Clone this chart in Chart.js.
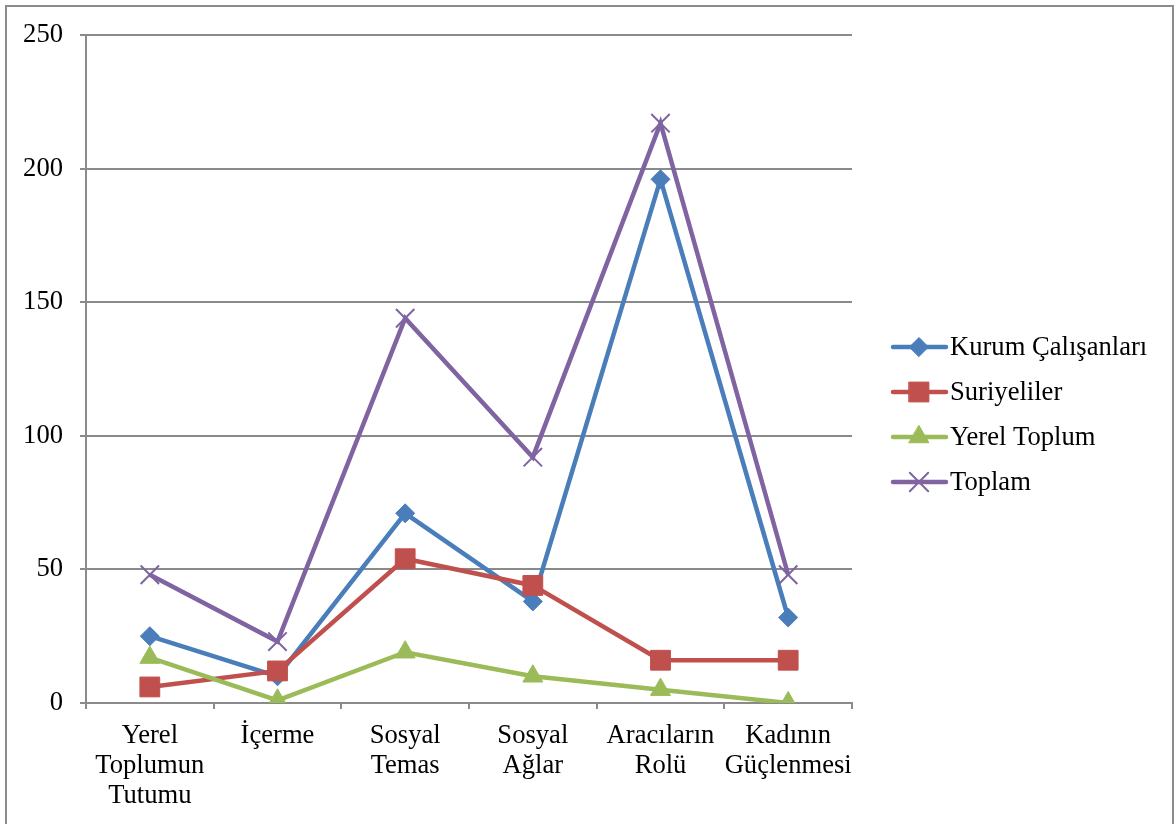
<!DOCTYPE html>
<html>
<head>
<meta charset="utf-8">
<script src="https://cdn.jsdelivr.net/npm/chart.js@4/dist/chart.umd.min.js"></script>
<style>
  html, body { margin: 0; padding: 0; background: #fff; }
  canvas { display: block; }
</style>
</head>
<body>
<canvas id="chart" width="1176" height="824"></canvas>
<script>
// data
const categories = [
    ['Yerel', 'Toplumun', 'Tutumu'],
    'İçerme',
    ['Sosyal', 'Temas'],
    ['Sosyal', 'Ağlar'],
    ['Aracıların', 'Rolü'],
    ['Kadının', 'Güçlenmesi']
];
const kurumCalisanlari = [25, 10, 71, 38, 196, 32];
const suriyeliler = [6, 12, 54, 44, 16, 16];
const yerelToplum = [17, 1, 19, 10, 5, 0];
const toplam = [48, 23, 144, 92, 217, 48];
const yTicks = [0, 50, 100, 150, 200, 250];

const FONT = "'Liberation Serif', 'Times New Roman', serif";
const GRID = '#8a8a8a';

const series = (label, data, color, pointStyle, radius, order, pbw) => ({
    label,
    data,
    borderColor: color,
    backgroundColor: color,
    pointBackgroundColor: color,
    pointBorderColor: color,
    borderWidth: 4.5,
    pointStyle,
    pointRadius: radius,
    pointBorderWidth: pbw,
    order,
    tension: 0
});

// outer frame round the whole chart
const framePlugin = {
    id: 'frame',
    afterDraw(chart) {
        const ctx = chart.ctx;
        ctx.save();
        ctx.strokeStyle = '#8c8c8c';
        ctx.lineWidth = 2;
        ctx.strokeRect(6, 6, 1167, 840);
        ctx.restore();
    }
};

// excel style legend: line with marker, then text
const legendPlugin = {
    id: 'sideLegend',
    afterDraw(chart) {
        const ctx = chart.ctx;
        const rows = [347, 392, 437, 482];
        ctx.save();
        chart.data.datasets.forEach((ds, i) => {
            const y = rows[i];
            ctx.strokeStyle = ds.borderColor;
            ctx.lineWidth = 4.5;
            ctx.lineCap = 'round';
            ctx.beginPath();
            ctx.moveTo(893, y);
            ctx.lineTo(946, y);
            ctx.stroke();
            ctx.fillStyle = ds.pointBackgroundColor;
            ctx.strokeStyle = ds.pointBorderColor;
            ctx.lineWidth = ds.pointBorderWidth;
            Chart.helpers.drawPoint(ctx, {
                pointStyle: ds.pointStyle,
                radius: ds.pointRadius,
                rotation: 0,
                borderWidth: ds.pointBorderWidth
            }, 919, y);
            ctx.fillStyle = '#000';
            ctx.font = '26.6px ' + FONT;
            ctx.textBaseline = 'middle';
            ctx.textAlign = 'left';
            ctx.fillText(ds.label, 950, y + 1);
        });
        ctx.restore();
    }
};

new Chart(document.getElementById('chart'), {
    type: 'line',
    data: {
        labels: categories,
        datasets: [
            series('Kurum Çalışanları', kurumCalisanlari, '#4a7ebb', 'rectRot', 9.5, 4, 1),
            series('Suriyeliler', suriyeliler, '#c0504d', 'rect', 14, 3, 1),
            series('Yerel Toplum', yerelToplum, '#9bbb59', 'triangle', 11.5, 2, 1),
            series('Toplam', toplam, '#8064a2', 'crossRot', 13, 1, 2)
        ]
    },
    options: {
        responsive: false,
        devicePixelRatio: 1,
        animation: false,
        layout: { padding: { top: 35, right: 324, bottom: 0, left: 0 } },
        scales: {
            x: {
                offset: true,
                afterFit: s => { s.height = 121; },
                grid: {
                    offset: true,
                    drawOnChartArea: false,
                    drawTicks: true,
                    tickLength: 6,
                    color: GRID,
                    lineWidth: 2
                },
                border: { display: true, color: GRID, width: 2 },
                ticks: {
                    color: '#000',
                    font: { family: FONT, size: 26.6, lineHeight: 1.13 },
                    padding: 12,
                    maxRotation: 0,
                    autoSkip: false
                }
            },
            y: {
                min: 0,
                max: 250,
                afterFit: s => { s.width = 86; },
                afterBuildTicks: s => { s.ticks = yTicks.map(v => ({ value: v })); },
                grid: {
                    color: GRID,
                    lineWidth: 2,
                    tickLength: 6
                },
                border: { display: true, color: GRID, width: 2 },
                ticks: {
                    color: '#000',
                    font: { family: FONT, size: 26.6 },
                    padding: 17
                }
            }
        },
        plugins: {
            legend: { display: false },
            tooltip: { enabled: false }
        }
    },
    plugins: [framePlugin, legendPlugin]
});
</script>
</body>
</html>
